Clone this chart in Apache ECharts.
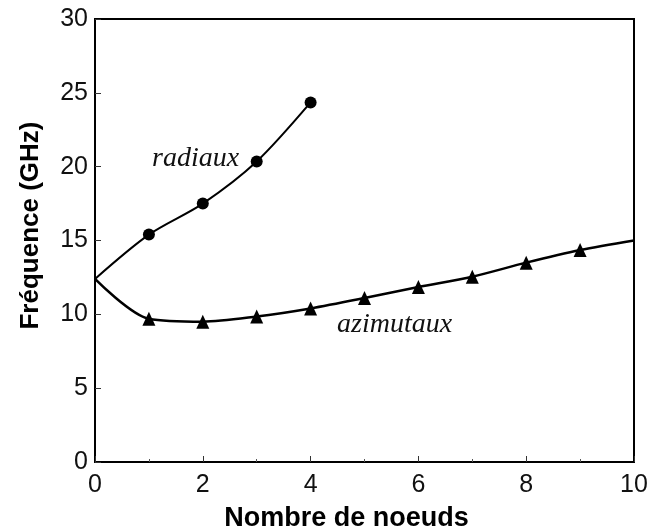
<!DOCTYPE html>
<html>
<head>
<meta charset="utf-8">
<script src="https://cdn.jsdelivr.net/npm/echarts@6/dist/echarts.min.js"></script>
<style>
html,body{margin:0;padding:0;background:#fff;}
#chart{width:660px;height:529px;}
</style>
</head>
<body>
<div id="chart"></div>
<script>
const nodes = [0, 1, 2, 3, 4, 5, 6, 7, 8, 9, 10];
const radiaux = [12.4, 15.4, 17.5, 20.35, 24.35];
const azimutaux = [12.4, 9.7, 9.5, 9.85, 10.4, 11.1, 11.85, 12.55, 13.5, 14.35, 15.0];
const yTicks = [0, 5, 10, 15, 20, 25, 30];
const xTicks = [0, 2, 4, 6, 8, 10];

const chart = echarts.init(document.getElementById('chart'));
const font = 'Liberation Sans, Arial, sans-serif';
const serif = 'Liberation Serif, Times New Roman, serif';

const option = {
  backgroundColor: '#fff',
  animation: false,
  grid: {left: 95, right: 26, top: 19, bottom: 67, containLabel: false, outerBoundsMode: 'none',
    show: true, borderColor: '#000', borderWidth: 2, backgroundColor: 'transparent'},
  xAxis: {
    type: 'value', min: xTicks[0], max: xTicks[xTicks.length - 1], interval: 2,
    axisLine: {lineStyle: {color: '#000', width: 2}},
    axisTick: {inside: true, length: 6, lineStyle: {color: '#333', width: 1}},
    minorTick: {show: true, splitNumber: 2, length: 3, lineStyle: {color: '#555'}},
    splitLine: {show: false},
    axisLabel: {fontFamily: font, fontSize: 25, color: '#111', margin: 11},
    name: 'Nombre de noeuds', nameLocation: 'middle', nameGap: 43,
    nameTextStyle: {fontFamily: font, fontWeight: 'bold', fontSize: 27, color: '#000', padding: [0, 36, 0, 0]}
  },
  yAxis: {
    type: 'value', min: yTicks[0], max: yTicks[yTicks.length - 1], interval: 5,
    axisLine: {lineStyle: {color: '#000', width: 2}},
    axisTick: {inside: true, length: 6, lineStyle: {color: '#333', width: 1}},
    splitLine: {show: false},
    axisLabel: {fontFamily: font, fontSize: 25, color: '#111', margin: 7},
    name: 'Fréquence (GHz)', nameLocation: 'middle', nameGap: 51,
    nameTextStyle: {fontFamily: font, fontWeight: 'bold', fontSize: 26, color: '#000', padding: [0, 0, 0, 30]}
  },
  series: [
    {
      name: 'radiaux', type: 'line', smooth: 0.3,
      data: radiaux.map((v, i) => [nodes[i], v]),
      symbol: 'circle',
      symbolSize: (v, p) => p.dataIndex === 0 ? 0 : 12,
      itemStyle: {color: '#000'},
      lineStyle: {color: '#000', width: 2},
      label: {show: false}
    },
    {
      name: 'azimutaux', type: 'line', smooth: 0.3,
      data: azimutaux.map((v, i) => [nodes[i], v]),
      symbol: 'triangle',
      symbolSize: (v, p) => (p.dataIndex === 0 || p.dataIndex === azimutaux.length - 1) ? 0 : [13, 14],
      itemStyle: {color: '#000'},
      lineStyle: {color: '#000', width: 2.5}
    }
  ],
  graphic: [
    {type: 'text', left: 152, top: 145, style: {text: 'radiaux', font: 'italic 28px ' + serif, fill: '#111'}},
    {type: 'text', left: 337, top: 311, style: {text: 'azimutaux', font: 'italic 28px ' + serif, fill: '#111'}}
  ]
};
chart.setOption(option);
</script>
</body>
</html>
